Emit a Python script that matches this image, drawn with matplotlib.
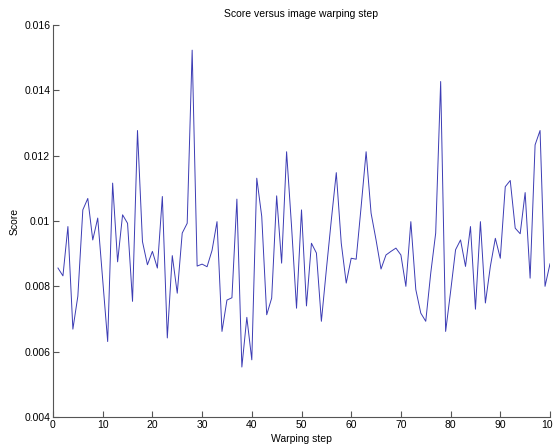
import matplotlib
matplotlib.use("Agg")
import matplotlib.pyplot as plt
from matplotlib.ticker import FuncFormatter

plt.rcParams['font.family'] = ['Liberation Sans', 'DejaVu Sans']

steps = list(range(1, 101))
scores = [
    0.00856, 0.00832, 0.00983, 0.00669, 0.00770, 0.01034, 0.01069, 0.00942, 0.01009, 0.00820,
    0.00631, 0.01116, 0.00875, 0.01019, 0.00993, 0.00754, 0.01277, 0.00937, 0.00866, 0.00907,
    0.00856, 0.01075, 0.00642, 0.00894, 0.00779, 0.00963, 0.00993, 0.01523, 0.00862, 0.00868,
    0.00860, 0.00910, 0.00998, 0.00662, 0.00758, 0.00765, 0.01067, 0.00553, 0.00705, 0.00575,
    0.01131, 0.01014, 0.00713, 0.00764, 0.01077, 0.00871, 0.01212, 0.00983, 0.00733, 0.01034,
    0.00740, 0.00932, 0.00902, 0.00693, 0.00851, 0.01003, 0.01148, 0.00932, 0.00810, 0.00886,
    0.00883, 0.01044, 0.01212, 0.01024, 0.00942, 0.00853, 0.00896, 0.00907, 0.00917, 0.00896,
    0.00800, 0.00998, 0.00790, 0.00718, 0.00693, 0.00840, 0.00963, 0.01427, 0.00662, 0.00784,
    0.00912, 0.00942, 0.00861, 0.00983, 0.00730, 0.00998, 0.00749, 0.00861, 0.00947, 0.00886,
    0.01105, 0.01124, 0.00978, 0.00961, 0.01087, 0.00825, 0.01233, 0.01277, 0.00800, 0.00869,
]
xticks = list(range(0, 101, 10))
yticks = [0.004, 0.006, 0.008, 0.010, 0.012, 0.014, 0.016]

fig = plt.figure(figsize=(5.53, 4.47), dpi=100)
ax = fig.add_axes([53 / 553, 1 - 417 / 447, (550 - 53) / 553, (417 - 25) / 447])

ax.plot(steps, scores, color='#3c3cb4', lw=0.7)

ax.set_xlim(0, 100)
ax.set_ylim(0.004, 0.016)
ax.set_xticks(xticks)
ax.set_yticks(yticks)
ax.yaxis.set_major_formatter(FuncFormatter(lambda v, p: ('%.3f' % v).rstrip('0')))

for side in ('top', 'right'):
    ax.spines[side].set_visible(False)
for side in ('left', 'bottom'):
    ax.spines[side].set_color('#555555')
    ax.spines[side].set_linewidth(0.8)
ax.tick_params(direction='in', length=4, width=0.8, color='#555555',
               labelsize=7.5, pad=2)

ax.set_title('Score versus image warping step', fontsize=7.5, pad=6)
ax.set_xlabel('Warping step', fontsize=7.5, labelpad=3)
ax.set_ylabel('Score', fontsize=7.5, labelpad=3)

fig.savefig('out.png', dpi=100)
